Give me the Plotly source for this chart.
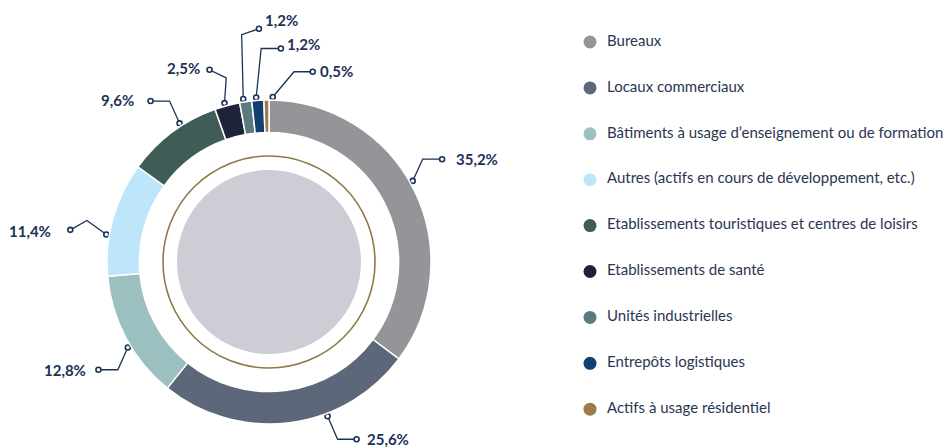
"""
Donut chart: répartition du patrimoine par typologie d'actifs.
"""

import math
import plotly.graph_objs as go

# ---- data ----
categories = [
    "Bureaux",
    "Locaux commerciaux",
    "Bâtiments à usage d’enseignement ou de formation",
    "Autres (actifs en cours de développement, etc.)",
    "Etablissements touristiques et centres de loisirs",
    "Etablissements de santé",
    "Unités industrielles",
    "Entrepôts logistiques",
    "Actifs à usage résidentiel",
]
shares = [35.2, 25.6, 12.8, 11.4, 9.6, 2.5, 1.2, 1.2, 0.5]
colors = [
    "#949599", "#5c6779", "#9cc0c0", "#bee6fb", "#405c56",
    "#1e233a", "#5a7a7e", "#133f73", "#9b7b46",
]

# ---- layout constants (screen pixels) ----
W, H = 951, 448
OFF = 8                    # page body margin, compensated below
CX, CY = 269, 262          # donut centre
R_OUT = 162                # outer radius of the ring
HOLE = 0.80
R_DISK = 92                # inner grey disk
R_GOLD = 106               # thin gold circle
R_DOT = R_OUT + 3          # leader line start radius
NAVY = "#1c3256"
TEXT_COLOR = "#2a3652"
FONT = "Lato, 'Open Sans', sans-serif"

# leader line styling per slice:
# angle nudge (deg), elbow offset, end offset, text side, text offset
leaders = [
    (-2.8, (10, -21.7), (19.4, 0), "left", (12, 0)),
    (-13.6, (10, 23), (19, 0), "left", (8, 0)),
    (-3.1, (-10, 22.3), (-19.4, 0), "right", (-10, 0)),
    (-5.9, (-19.3, -14), (-16.7, 9.3), "right", (-17, 1.5)),
    (3.9, (-10, -22.3), (-19, 0), "right", (-15, -1.5)),
    (-0.7, (1.7, -25.3), (-16.7, -8), "right", (-8, -1.5)),
    (-0.7, (-1.6, -64.3), (17.3, -6), "left", (4, -9)),
    (-0.5, (5, -49), (19.7, 0), "left", (4, -5)),
    (2.2, (21.3, -25.3), (18.7, 0), "left", (5, -1)),
]

# legend placement
LEG_X = 590
LEG_Y0 = 42
LEG_DY = 45.9


def dom(cx, cy, r):
    """Screen-pixel circle -> paper domain."""
    x, y = cx - OFF, cy - OFF
    return dict(x=[(x - r) / W, (x + r) / W],
                y=[(H - y - r) / H, (H - y + r) / H])


fig = go.Figure()

# main ring
fig.add_trace(go.Pie(
    labels=categories,
    values=shares,
    sort=False,
    direction="clockwise",
    rotation=0,
    hole=HOLE,
    marker=dict(colors=colors, line=dict(color="white", width=1.5)),
    textinfo="none",
    hovertemplate="%{label}<br>%{value:.1f}%<extra></extra>",
    domain=dom(CX, CY, R_OUT),
    showlegend=False,
))

# inner grey disk
fig.add_trace(go.Pie(
    labels=[""],
    values=[1],
    marker=dict(colors=["#cccdd5"], line=dict(width=0)),
    textinfo="none",
    hoverinfo="skip",
    domain=dom(CX, CY, R_DISK),
    showlegend=False,
))

# leader lines and labels, anchored on slice angles
total = sum(shares)
cum = 0.0
line_x, line_y, dot_x, dot_y = [], [], [], []
annotations = []
for v, (nudge, elbow, end, side, toff) in zip(shares, leaders):
    theta = math.radians((cum + v / 2) / total * 360 + nudge)
    cum += v
    sx = CX + R_DOT * math.sin(theta)
    sy = CY - R_DOT * math.cos(theta)
    ex, ey = sx + elbow[0], sy + elbow[1]
    fx, fy = ex + end[0], ey + end[1]
    line_x += [sx, ex, fx, None]
    line_y += [sy, ey, fy, None]
    dot_x += [sx, fx]
    dot_y += [sy, fy]
    annotations.append(dict(
        x=fx + toff[0], y=fy + toff[1], xref="x", yref="y",
        text=f"<b>{v:.1f}%</b>".replace(".", ","),
        showarrow=False, xanchor=side, yanchor="middle",
        font=dict(family=FONT, size=15, color=NAVY),
    ))

fig.add_trace(go.Scatter(
    x=line_x, y=line_y, mode="lines",
    line=dict(color=NAVY, width=1.3),
    hoverinfo="skip", showlegend=False,
))
fig.add_trace(go.Scatter(
    x=dot_x, y=dot_y, mode="markers",
    marker=dict(size=5, color="white", line=dict(color=NAVY, width=1.6)),
    hoverinfo="skip", showlegend=False,
))

# custom legend
leg_y = [LEG_Y0 + i * LEG_DY for i in range(len(categories))]
fig.add_trace(go.Scatter(
    x=[LEG_X] * len(categories), y=leg_y, mode="markers",
    marker=dict(size=13, color=colors),
    hoverinfo="skip", showlegend=False,
))
fig.add_trace(go.Scatter(
    x=[LEG_X + 17] * len(categories), y=leg_y, mode="text",
    text=categories, textposition="middle right",
    textfont=dict(family=FONT, size=15, color=TEXT_COLOR),
    hoverinfo="skip", showlegend=False,
))

# thin gold circle
fig.add_shape(
    type="circle", xref="x", yref="y",
    x0=CX - R_GOLD, x1=CX + R_GOLD, y0=CY - R_GOLD, y1=CY + R_GOLD,
    line=dict(color="#8f7a45", width=1.6),
)

fig.update_layout(
    width=W,
    height=H,
    margin=dict(l=0, r=0, t=0, b=0),
    paper_bgcolor="white",
    plot_bgcolor="rgba(0,0,0,0)",
    # axes in screen pixels, shifted by the body margin
    xaxis=dict(range=[OFF, W + OFF], visible=False, fixedrange=True),
    yaxis=dict(range=[H + OFF, OFF], visible=False, fixedrange=True),
    annotations=annotations,
    showlegend=False,
    font=dict(family=FONT),
)

fig.write_html("out.html")
